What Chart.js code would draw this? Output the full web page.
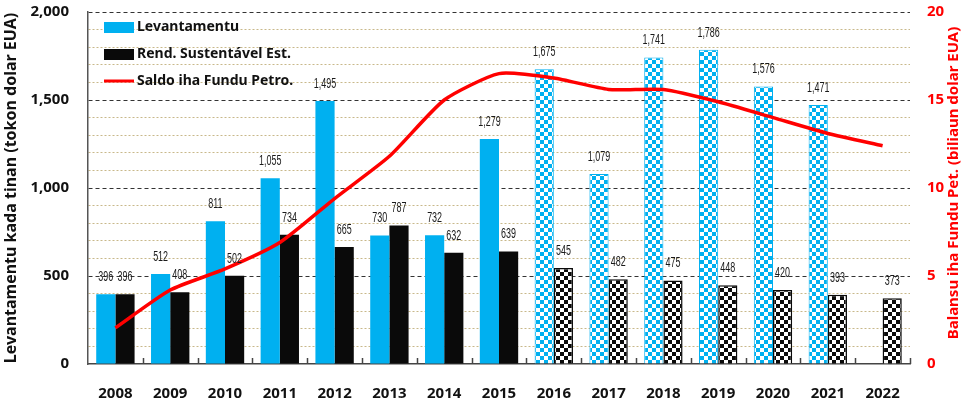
<!DOCTYPE html>
<html>
<head>
<meta charset="utf-8">
<script src="https://cdn.jsdelivr.net/npm/chart.js@4.4.1/dist/chart.umd.min.js"></script>
<style>
  html, body { margin: 0; padding: 0; background: #fff; }
  canvas { display: block; }
</style>
</head>
<body>
<canvas id="myChart" width="964" height="405"></canvas>
<script>
const years = ['2008', '2009', '2010', '2011', '2012', '2013', '2014', '2015',
               '2016', '2017', '2018', '2019', '2020', '2021', '2022'];
// tokon dolar EUA (million USD)
const levantamentu = [396, 512, 811, 1055, 1495, 730, 732, 1279, 1675, 1079, 1741, 1786, 1576, 1471, null];
const rendSustentavel = [396, 408, 502, 734, 665, 787, 632, 639, 545, 482, 475, 448, 420, 393, 373];
// biliaun dolar EUA (billion USD)
const saldoFundu = [2.05, 4.2, 5.4, 6.9, 9.4, 11.8, 15.0, 16.5, 16.25, 15.6, 15.6, 14.9, 14.0, 13.1, 12.4];
const firstForecast = 8; // from 2016 the bars are checkered

const blue = '#00B0F0';
const black = '#0a0a0a';
const red = '#FF0000';
const fontName = '"Noto Sans", sans-serif';

const ctx = document.getElementById('myChart');
const g2d = ctx.getContext('2d');

function checkers(color) {
  const c = document.createElement('canvas');
  c.width = 8; c.height = 8;
  const g = c.getContext('2d');
  g.fillStyle = '#fff';
  g.fillRect(0, 0, 8, 8);
  g.fillStyle = color;
  g.fillRect(0, 0, 4, 4);
  g.fillRect(4, 4, 4, 4);
  return g2d.createPattern(c, 'repeat');
}
const bluePattern = checkers(blue);
const blackPattern = checkers(black);

// value labels above the bars (narrow font)
const barLabels = {
  id: 'barLabels',
  afterDatasetsDraw(chart) {
    const c = chart.ctx;
    c.save();
    c.fillStyle = '#1a1a1a';
    c.font = '14px "Liberation Sans"';
    c.textAlign = 'center';
    c.textBaseline = 'middle';
    [0, 1].forEach(di => {
      chart.getDatasetMeta(di).data.forEach((bar, i) => {
        const v = chart.data.datasets[di].data[i];
        if (v == null) return;
        c.save();
        c.translate(bar.x, bar.y - 17);
        c.scale(0.64, 1);
        c.fillText(v.toLocaleString('en-US'), 0, 0);
        c.restore();
      });
    });
    c.restore();
  }
};

// small ticks pointing up from the x axis, between the years
const innerTicks = {
  id: 'innerTicks',
  afterDraw(chart) {
    const x = chart.scales.x, a = chart.chartArea, c = chart.ctx;
    const half = (x.getPixelForValue(1) - x.getPixelForValue(0)) / 2;
    c.save();
    c.strokeStyle = '#444';
    c.lineWidth = 1.5;
    c.beginPath();
    for (let i = 1; i <= years.length; i++) {
      const px = Math.round(x.getPixelForValue(i) - half) + 0.5;
      c.moveTo(px, a.bottom);
      c.lineTo(px, a.bottom - 6);
    }
    c.stroke();
    c.restore();
  }
};

// legend inside the plot + right axis title (reads bottom to top)
const extras = {
  id: 'extras',
  afterDraw(chart) {
    const c = chart.ctx, a = chart.chartArea;
    c.save();
    let x = a.left + 16, y = a.top + 15;
    c.font = 'bold 14px ' + fontName;
    c.textBaseline = 'middle';
    c.textAlign = 'left';
    chart.data.datasets.forEach(ds => {
      if (ds.type === 'line') {
        c.strokeStyle = ds.borderColor;
        c.lineWidth = 3;
        c.beginPath();
        c.moveTo(x, y);
        c.lineTo(x + 30, y);
        c.stroke();
      } else {
        c.fillStyle = ds.legendColor;
        c.fillRect(x, y - 5, 30, 11);
      }
      c.fillStyle = '#111';
      c.fillText(ds.label, x + 33, y);
      y += 27;
    });

    c.translate(chart.width - 10, (a.top + a.bottom) / 2 - 5);
    c.rotate(-Math.PI / 2);
    c.textAlign = 'center';
    c.fillStyle = red;
    c.font = 'bold 15px ' + fontName;
    c.fillText('Balansu iha Fundu Pet. (biliaun dolar EUA)', 0, 0);
    c.restore();
  }
};

new Chart(ctx, {
  data: {
    labels: years,
    datasets: [{
      type: 'bar',
      label: 'Levantamentu',
      data: levantamentu,
      legendColor: blue,
      backgroundColor: c => c.dataIndex >= firstForecast ? bluePattern : blue,
      borderColor: blue,
      borderWidth: c => c.dataIndex >= firstForecast ? 1 : 0,
      barPercentage: 1.0,
      categoryPercentage: 0.7,
      order: 1
    }, {
      type: 'bar',
      label: 'Rend. Sustentável Est.',
      data: rendSustentavel,
      legendColor: black,
      backgroundColor: c => c.dataIndex >= firstForecast ? blackPattern : black,
      borderColor: black,
      borderWidth: c => c.dataIndex >= firstForecast ? 1.5 : 0,
      barPercentage: 1.0,
      categoryPercentage: 0.7,
      order: 1
    }, {
      type: 'line',
      label: 'Saldo iha Fundu Petro.',
      data: saldoFundu,
      yAxisID: 'y1',
      borderColor: red,
      borderWidth: 3.5,
      pointRadius: 0,
      tension: 0.2,
      order: 0
    }]
  },
  options: {
    responsive: false,
    animation: false,
    devicePixelRatio: 1,
    layout: { padding: { top: 12, left: 0, right: 0, bottom: 0 } },
    plugins: {
      legend: { display: false },
      tooltip: { enabled: false }
    },
    scales: {
      x: {
        afterFit: s => { s.height = 41; s.paddingLeft = 0; s.paddingRight = 0; },
        grid: { display: false },
        border: { color: '#444', width: 1.5 },
        ticks: { color: '#111', padding: 13, font: { family: fontName, size: 15, weight: 'bold' } }
      },
      y: {
        position: 'left',
        min: 0,
        max: 2000,
        afterFit: s => { s.width = 88; s.paddingTop = 0; s.paddingBottom = 0; },
        border: {
          color: '#555',
          width: 1.5,
          dash: c => (c.tick && c.tick.value % 500 === 0) ? [4, 3] : [2, 2]
        },
        grid: {
          drawTicks: false,
          lineWidth: 1,
          color: c => {
            if (!c.tick || c.tick.value === 0) return 'rgba(0,0,0,0)';
            return c.tick.value % 500 === 0 ? '#333' : '#C8B88A';
          }
        },
        ticks: {
          stepSize: 100,
          autoSkip: false,
          padding: 19,
          color: '#111',
          font: { family: fontName, size: 15, weight: 'bold' },
          callback: v => v % 500 === 0 ? v.toLocaleString('en-US') : ''
        },
        title: {
          display: true,
          text: 'Levantamentu kada tinan (tokon dolar EUA)',
          color: '#111',
          padding: { top: 2, bottom: 0 },
          font: { family: fontName, size: 16, weight: 'bold' }
        }
      },
      y1: {
        position: 'right',
        min: 0,
        max: 20,
        afterFit: s => { s.width = 54; s.paddingTop = 0; s.paddingBottom = 0; },
        grid: { display: false, drawTicks: false },
        border: { display: false },
        ticks: {
          stepSize: 5,
          padding: 17,
          color: red,
          font: { family: fontName, size: 15, weight: 'bold' }
        }
      }
    }
  },
  plugins: [barLabels, innerTicks, extras]
});
</script>
</body>
</html>
